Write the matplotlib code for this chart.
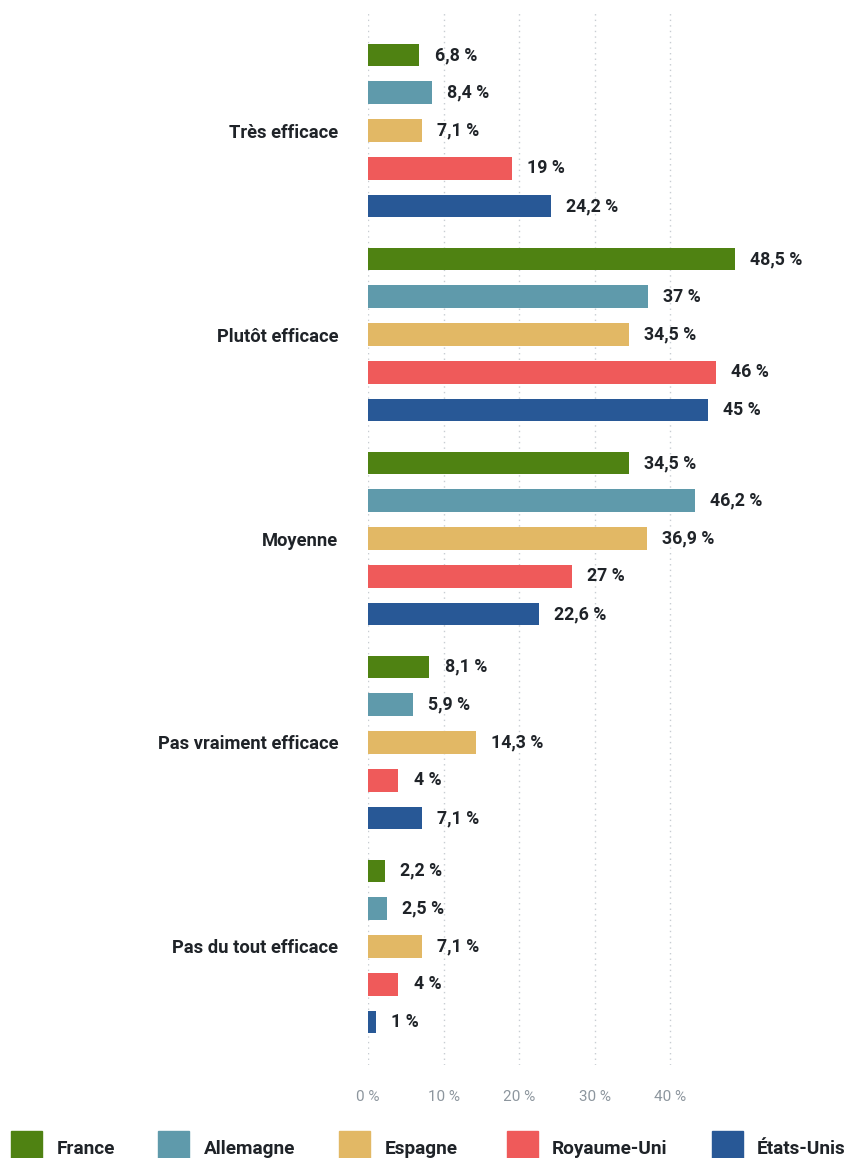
import matplotlib
matplotlib.use("Agg")
import matplotlib.pyplot as plt
from matplotlib.patches import Rectangle

plt.rcParams['font.family'] = ['Roboto', 'DejaVu Sans']

categories = ["Très efficace", "Plutôt efficace", "Moyenne", "Pas vraiment efficace", "Pas du tout efficace"]
series_names = ["France", "Allemagne", "Espagne", "Royaume-Uni", "États-Unis"]
# bar lengths as drawn in the reference
france = [6.8, 48.5, 34.5, 8.1, 2.2]
allemagne = [8.4, 37, 43.2, 5.9, 2.5]
espagne = [7.1, 34.5, 36.9, 14.3, 7.1]
royaume_uni = [19, 46, 27, 4, 4]
etats_unis = [24.2, 45, 22.6, 7.1, 1]
# value labels as printed in the reference
france_labels = ["6,8 %", "48,5 %", "34,5 %", "8,1 %", "2,2 %"]
allemagne_labels = ["8,4 %", "37 %", "46,2 %", "5,9 %", "2,5 %"]
espagne_labels = ["7,1 %", "34,5 %", "36,9 %", "14,3 %", "7,1 %"]
royaume_uni_labels = ["19 %", "46 %", "27 %", "4 %", "4 %"]
etats_unis_labels = ["24,2 %", "45 %", "22,6 %", "7,1 %", "1 %"]
colors = ["#4f8212", "#5f9aab", "#e2b865", "#ef5a5a", "#285896"]
xticks = [0, 10, 20, 30, 40]
xticklabels = ["0 %", "10 %", "20 %", "30 %", "40 %"]

series = [france, allemagne, espagne, royaume_uni, etats_unis]
labels = [france_labels, allemagne_labels, espagne_labels, royaume_uni_labels, etats_unis_labels]

W, H = 847, 1158
fig = plt.figure(figsize=(W / 100, H / 100), dpi=100)
ax_left, ax_right = 368, 846
ax_top, ax_bottom = 10, 1065
ax = fig.add_axes([ax_left / W, 1 - ax_bottom / H, (ax_right - ax_left) / W, (ax_bottom - ax_top) / H])

period = 5.4
bar_h = 0.6
px_per_unit = 37.77
for j, (vals, labs, col) in enumerate(zip(series, labels, colors)):
    ys = [i * period + j for i in range(len(categories))]
    ax.barh(ys, vals, height=bar_h, color=col, zorder=3)
    for y, v, lab in zip(ys, vals, labs):
        ax.annotate(lab, xy=(v, y), xytext=(11, 0), textcoords="offset points",
                    ha="left", va="center", fontsize=12.8, fontweight="bold",
                    color="#1f2328", zorder=4)

ppu_x = 7.56
ax.set_xlim(0, (ax_right - ax_left) / ppu_x)
first, last = 0, (len(categories) - 1) * period + 4
ax.set_ylim(last + (ax_bottom - 1022) / px_per_unit, first - (55 - ax_top) / px_per_unit)

ax.set_xticks(xticks)
ax.set_xticklabels(xticklabels, color="#8d969e", fontsize=11)
ax.tick_params(axis="x", length=0, pad=18)
ax.set_yticks([i * period + 2 for i in range(len(categories))])
ax.set_yticklabels(categories, fontsize=13.2, fontweight="bold", color="#1f2328")
ax.tick_params(axis="y", length=0, pad=21.6)
for s in ax.spines.values():
    s.set_visible(False)
ax.grid(axis="x", linestyle=(0, (1, 3)), color="#c8cdd2", linewidth=1, zorder=0)

# Legend
leg_sq_x = [11, 158, 339, 507, 712]
leg_tx_x = [57, 204, 385, 552, 757]
sq = 31
for name, col, sx, tx in zip(series_names, colors, leg_sq_x, leg_tx_x):
    fig.patches.append(Rectangle((sx / W, 1 - (1131 + sq) / H), sq / W, sq / H,
                                 transform=fig.transFigure, color=col, figure=fig))
    fig.text(tx / W, 1 - 1149 / H, name, ha="left", va="center", fontsize=13.7,
             fontweight="bold", color="#1f2328")

fig.savefig("out.png", dpi=100)
